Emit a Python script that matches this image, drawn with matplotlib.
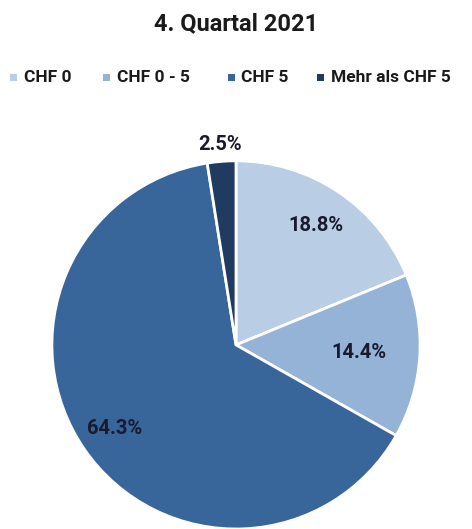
import matplotlib
matplotlib.use("Agg")
import matplotlib.pyplot as plt
import numpy as np
from matplotlib.patches import Rectangle

categories = ["CHF 0", "CHF 0 - 5", "CHF 5", "Mehr als CHF 5"]
values = [18.8, 14.4, 64.3, 2.5]
labels = ["18.8%", "14.4%", "64.3%", "2.5%"]
colors = ["#b9cde5", "#95b3d7", "#38659a", "#1f3b5f"]
title = "4. Quartal 2021"

fontkw = dict(family=["Roboto", "DejaVu Sans"], fontweight="bold")

fig = plt.figure(figsize=(4.72, 5.29), dpi=100)
ax = fig.add_axes([0.110, 0.0, 0.78, 0.696])
wedges, _ = ax.pie(values, colors=colors, startangle=90, counterclock=False,
                   wedgeprops=dict(edgecolor="white", linewidth=2.0))
ax.set_aspect("equal")
ax.set_xlim(-1.0, 1.0)
ax.set_ylim(-1.0, 1.0)

dists = [0.78, 0.67, 0.8, 1.09]
for w, lab, d in zip(wedges, labels, dists):
    ang = np.deg2rad((w.theta1 + w.theta2) / 2)
    ax.text(d * np.cos(ang), d * np.sin(ang), lab, ha="center", va="center",
            fontsize=14.5, color="#1a1a2e", **fontkw)

fig.text(0.5, 0.955, title, ha="center", va="center", fontsize=17, color="#1a1a1a", **fontkw)

# legend
xs = [0.022, 0.218, 0.482, 0.672]
for x, c, cat in zip(xs, colors, categories):
    fig.patches.append(Rectangle((x, 0.847), 0.015, 0.014, transform=fig.transFigure,
                                 facecolor=c, edgecolor="none"))
    fig.text(x + 0.029, 0.853, cat, ha="left", va="center", fontsize=12.5,
             color="#1a1a1a", **fontkw)

fig.savefig("out.png", dpi=100)
